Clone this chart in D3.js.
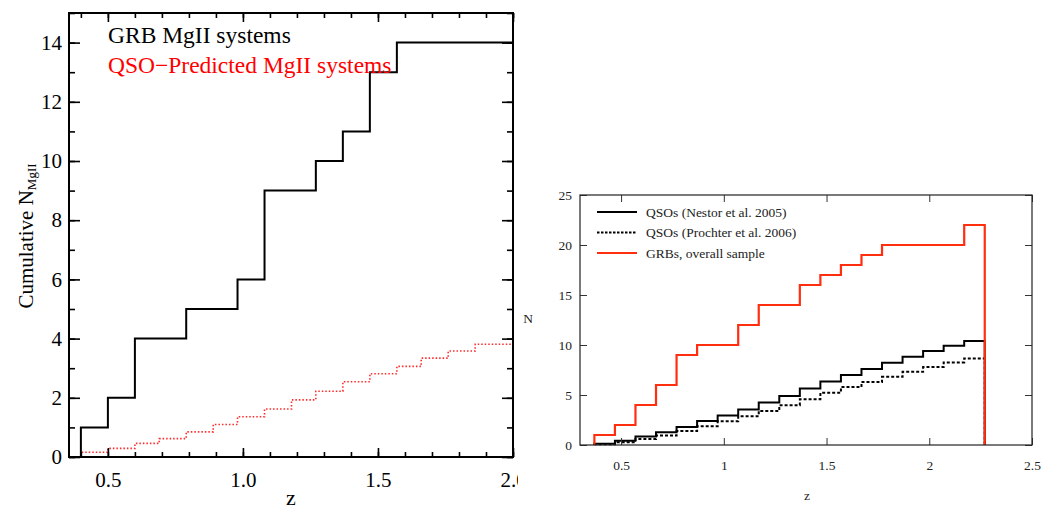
<!DOCTYPE html>
<html>
<head>
<meta charset="utf-8">
<title>MgII cumulative counts</title>
<script src="https://cdn.jsdelivr.net/npm/d3@7"></script>
<style>
  body { margin: 0; background: #fff; }
</style>
</head>
<body>
<script>

// ---- left panel data (GRB vs QSO-predicted, cumulative) ----
var grbEdges  = [0.40, 0.50, 0.60, 0.79, 0.98, 1.08, 1.27, 1.37, 1.47, 1.57];
var grbCounts = [1, 2, 4, 5, 6, 9, 10, 11, 13, 14];
var predEdges  = [0.40, 0.50, 0.60, 0.69, 0.79, 0.89, 0.98, 1.08, 1.18, 1.27, 1.37, 1.47, 1.57, 1.66, 1.76, 1.86];
var predCounts = [0.16, 0.29, 0.46, 0.62, 0.85, 1.10, 1.36, 1.62, 1.93, 2.22, 2.54, 2.81, 3.06, 3.34, 3.58, 3.81];
var leftXTicks = [0.5, 1.0, 1.5, 2.0];
var leftYTicks = [0, 2, 4, 6, 8, 10, 12, 14];

// ---- right panel data (bins of 0.1 in z) ----
var binStarts = [0.37, 0.47, 0.57, 0.67, 0.77, 0.87, 0.97, 1.07, 1.17, 1.27, 1.37, 1.47, 1.57, 1.67, 1.77, 1.87, 1.97, 2.07, 2.17];
var binEnd = 2.27;
var nestor   = [0.13, 0.43, 0.84, 1.27, 1.80, 2.40, 2.94, 3.54, 4.25, 4.90, 5.65, 6.35, 7.00, 7.60, 8.23, 8.83, 9.40, 9.93, 10.4];
var prochter = [0.07, 0.27, 0.60, 0.94, 1.40, 1.87, 2.37, 2.88, 3.41, 3.98, 4.58, 5.22, 5.79, 6.29, 6.82, 7.32, 7.79, 8.26, 8.66];
var grbAll   = [1, 2, 4, 6, 9, 10, 10, 12, 14, 14, 16, 17, 18, 19, 20, 20, 20, 20, 22];
var rightXTicks = [0.5, 1, 1.5, 2, 2.5];
var rightYTicks = [0, 5, 10, 15, 20, 25];
var legendNames = ["QSOs (Nestor et al. 2005)", "QSOs (Prochter et al. 2006)", "GRBs, overall sample"];

var SERIF = "'Liberation Serif', 'Times New Roman', serif";

var svg = d3.select("body").append("svg")
    .attr("width", 1042)
    .attr("height", 510)
    .style("font-family", SERIF);

var step = d3.line()
    .x(function(d) { return d[0]; })
    .y(function(d) { return d[1]; })
    .curve(d3.curveStepAfter);

// =============== LEFT PANEL ===============
var L = { left: 69, right: 513, top: 13, bottom: 457 };

svg.append("clipPath").attr("id", "leftcrop")
  .append("rect").attr("x", 0).attr("y", 0).attr("width", 518).attr("height", 510);
svg.append("clipPath").attr("id", "leftplot")
  .append("rect").attr("x", L.left).attr("y", L.top)
    .attr("width", L.right - L.left).attr("height", L.bottom - L.top);

var lg = svg.append("g").attr("clip-path", "url(#leftcrop)");

var lx = d3.scaleLinear().domain([0.356, 2.0]).range([L.left, L.right]);
var ly = d3.scaleLinear().domain([0, 15]).range([L.bottom, L.top]);

function cumPoints(xs, edges, counts, xEnd) {
  var pts = [[xs(xs.domain()[0]), ly(0)]];
  edges.forEach(function(e, i) { pts.push([xs(e), ly(counts[i])]); });
  pts.push([xs(xEnd), ly(counts[counts.length - 1])]);
  return pts;
}

var lplot = lg.append("g").attr("clip-path", "url(#leftplot)");
lplot.append("path")
    .attr("d", step(cumPoints(lx, predEdges, predCounts, 2.1)))
    .attr("fill", "none")
    .attr("stroke", "#ff2a2a")
    .attr("stroke-width", 1.6)
    .attr("stroke-dasharray", "1.5,2");
lplot.append("path")
    .attr("d", step(cumPoints(lx, grbEdges, grbCounts, 2.1)))
    .attr("fill", "none")
    .attr("stroke", "#000")
    .attr("stroke-width", 2);

// minor + major ticks on all four sides
var minorX = d3.range(4, 21).map(function(d) { return d / 10; });
var minorY = d3.range(0, 16);
function leftTicks(axis, tr, vals, size) {
  var g = lg.append("g").attr("transform", tr)
      .call(axis.tickValues(vals).tickSize(size).tickFormat(""));
  g.select(".domain").remove();
  g.selectAll("line").attr("stroke", "#000").attr("stroke-width", 1.6);
  return g;
}
leftTicks(d3.axisBottom(lx), "translate(0," + L.bottom + ")", minorX, -5);
leftTicks(d3.axisTop(lx), "translate(0," + L.top + ")", minorX, -5);
leftTicks(d3.axisLeft(ly), "translate(" + L.left + ",0)", minorY, -6);
leftTicks(d3.axisRight(ly), "translate(" + L.right + ",0)", minorY, -6);
leftTicks(d3.axisTop(lx), "translate(0," + L.top + ")", leftXTicks, -9);
leftTicks(d3.axisRight(ly), "translate(" + L.right + ",0)", leftYTicks, -11);

var lxa = lg.append("g").attr("transform", "translate(0," + L.bottom + ")")
    .call(d3.axisBottom(lx).tickValues(leftXTicks).tickSize(-9).tickPadding(15)
      .tickFormat(d3.format(".1f")));
var lya = lg.append("g").attr("transform", "translate(" + L.left + ",0)")
    .call(d3.axisLeft(ly).tickValues(leftYTicks).tickSize(-11).tickPadding(7)
      .tickFormat(d3.format("d")));
[lxa, lya].forEach(function(g) {
  g.attr("font-family", SERIF);
  g.select(".domain").remove();
  g.selectAll("line").attr("stroke", "#000").attr("stroke-width", 1.6);
  g.selectAll("text").attr("fill", "#000").style("font-size", "21px");
});

lg.append("rect")
    .attr("x", L.left).attr("y", L.top)
    .attr("width", L.right - L.left).attr("height", L.bottom - L.top)
    .attr("fill", "none").attr("stroke", "#000").attr("stroke-width", 2);

lg.append("text").attr("x", 108).attr("y", 43)
    .style("font-size", "23.5px").style("font-family", SERIF)
    .attr("fill", "#000").text("GRB MgII systems");
lg.append("text").attr("x", 108).attr("y", 73)
    .style("font-size", "23.5px").style("font-family", SERIF)
    .attr("fill", "#ff0000").text("QSO\u2212Predicted MgII systems");

lg.append("text").attr("x", 291).attr("y", 505)
    .attr("text-anchor", "middle").style("font-size", "22px").text("z");

var ylab = lg.append("text")
    .attr("transform", "translate(33,236) rotate(-90)")
    .attr("text-anchor", "middle")
    .style("font-size", "21px");
ylab.append("tspan").text("Cumulative N");
ylab.append("tspan").attr("dy", 3).style("font-size", "13px").text("MgII");

// =============== RIGHT PANEL ===============
var R = { left: 580, right: 1032, top: 195, bottom: 445 };
var rx = d3.scaleLinear().domain([0.3, 2.5]).range([R.left, R.right]);
var ry = d3.scaleLinear().domain([0, 25]).range([R.bottom, R.top]);
var rg = svg.append("g");

function binPoints(vals) {
  var pts = [[rx(binStarts[0]), ry(0)]];
  binStarts.forEach(function(s, i) { pts.push([rx(s), ry(vals[i])]); });
  pts.push([rx(binEnd), ry(vals[vals.length - 1])]);
  pts.push([rx(binEnd), ry(0)]);
  return pts;
}

var seriesStyle = [
  { vals: nestor,   color: "#000",    width: 2,   dash: null },
  { vals: prochter, color: "#000",    width: 2,   dash: "3,2" },
  { vals: grbAll,   color: "#ff2e0e", width: 2.2, dash: null }
];
seriesStyle.forEach(function(s) {
  rg.append("path")
      .attr("d", step(binPoints(s.vals)))
      .attr("fill", "none")
      .attr("stroke", s.color)
      .attr("stroke-width", s.width)
      .attr("stroke-dasharray", s.dash);
});

function rightAxis(axis, tr, vals, labels, pad) {
  var g = rg.append("g").attr("transform", tr)
      .call(axis.tickValues(vals).tickSize(-7).tickPadding(pad)
        .tickFormat(labels ? d3.format("") : ""));
  g.attr("font-family", SERIF);
  g.select(".domain").remove();
  g.selectAll("line").attr("stroke", "#333").attr("stroke-width", 1);
  g.selectAll("text").attr("fill", "#222").style("font-size", "13.5px");
  return g;
}
rightAxis(d3.axisBottom(rx), "translate(0," + R.bottom + ")", rightXTicks, true, 15);
rightAxis(d3.axisTop(rx), "translate(0," + R.top + ")", rightXTicks, false, 0);
rightAxis(d3.axisLeft(ry), "translate(" + R.left + ",0)", rightYTicks, true, 8);
rightAxis(d3.axisRight(ry), "translate(" + R.right + ",0)", rightYTicks, false, 0);

rg.append("rect")
    .attr("x", R.left).attr("y", R.top)
    .attr("width", R.right - R.left).attr("height", R.bottom - R.top)
    .attr("fill", "none").attr("stroke", "#222").attr("stroke-width", 1.2);

legendNames.forEach(function(name, i) {
  var y = 212 + i * 20.5;
  rg.append("line")
      .attr("x1", 597).attr("x2", 637).attr("y1", y).attr("y2", y)
      .attr("stroke", seriesStyle[i].color)
      .attr("stroke-width", seriesStyle[i].width)
      .attr("stroke-dasharray", seriesStyle[i].dash ? "2.5,1.5" : null);
  rg.append("text").attr("x", 646).attr("y", y + 4.5)
      .attr("fill", "#222").style("font-size", "13.5px").text(name);
});

rg.append("text").attr("x", 807).attr("y", 500)
    .attr("text-anchor", "middle").attr("fill", "#222").style("font-size", "13.5px").text("z");
rg.append("text").attr("x", 528).attr("y", 323)
    .attr("text-anchor", "middle").attr("fill", "#222").style("font-size", "13.5px").text("N");

</script>
</body>
</html>
